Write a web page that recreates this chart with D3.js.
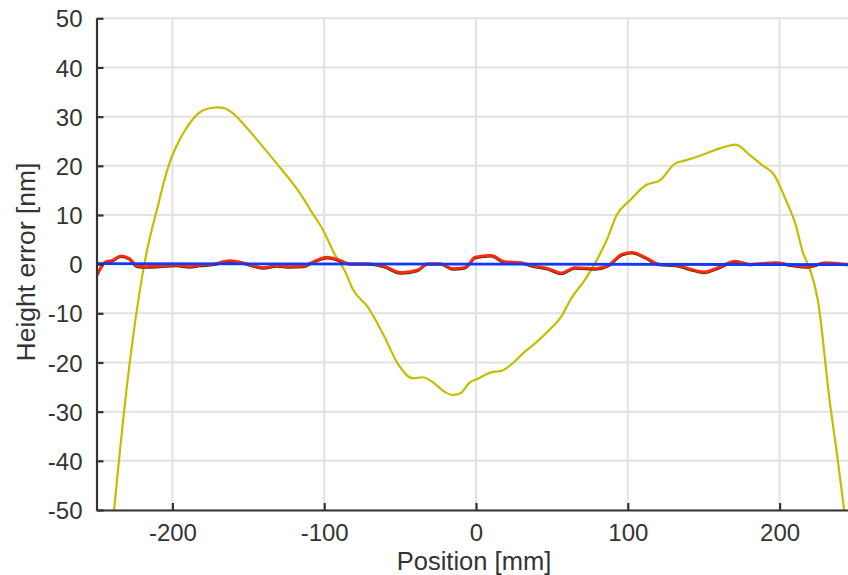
<!DOCTYPE html>
<html><head><meta charset="utf-8">
<script src="https://cdn.jsdelivr.net/npm/d3@7"></script>
<style>
html,body{margin:0;padding:0;background:#fff;overflow:hidden}
svg{display:block}
text{font-family:"Liberation Sans",Arial,Helvetica,sans-serif;fill:#333}
</style></head><body>
<svg id="c" width="848" height="575"></svg>
<script>
const xTicks = [-200, -100, 0, 100, 200];
const yTicks = [-50, -40, -30, -20, -10, 0, 10, 20, 30, 40, 50];
const xLabel = "Position [mm]";
const yLabel = "Height error [nm]";

// Yellow: raw profile
const rawX = [-238.4,-231,-218.5,-208.6,-205.8,-202,-195.4,-190.9,-181,-175.5,-170,-165.6,-161.1,-151.2,-140.2,-130.3,-115.9,-109,-100.7,-92.7,-86,-81.5,-70.9,-60.9,-51,-41.7,-35.1,-28.5,-20.5,-15.2,-9.9,-4.6,2,9.9,16.6,24.5,31.1,39.7,48.3,56.3,62.9,71.5,78.1,86.1,92.7,101.5,111.5,121.4,131.3,138,149,161.1,171,181,188.7,196.5,200.9,204.2,210.6,215.2,219.9,225.2,232.9,238.4,242.5];
const rawY = [-50,-27.6,0,13,16.5,20.5,25.2,27.6,31.1,31.7,31.9,31.7,30.9,27.8,23.8,20.1,14.4,11,6.9,1.8,-1.6,-4.9,-8.9,-14.4,-20.5,-23.2,-23,-24,-26,-26.6,-26.2,-24.2,-23.2,-22,-21.7,-20.1,-18.1,-15.9,-13.4,-10.6,-6.9,-3.3,0,4.9,10,13,16,17.1,20.5,21.1,22.2,23.6,24.3,22,20.1,18.1,15.4,13,8,2.5,-1,-7.3,-27.6,-40,-50];

// Red: residual
const resX = [-250.5,-244,-239.5,-234,-228.5,-223,-217.4,-208.6,-197.6,-188.7,-182,-173.3,-162.3,-151.2,-140.2,-131.3,-122.5,-113.7,-107.1,-98.2,-91.6,-82.8,-71.7,-60.7,-49.7,-38.6,-32,-23.2,-15.4,-7.7,-3.3,-1.1,9.9,18.7,29.8,38.6,47.5,56.3,65.1,78.3,87.2,96,102.6,111.5,120.3,131.3,142.4,150.1,157.8,171,179.9,197.5,208.6,217.4,230.7,239.5,247];
const resY = [-2.6,0.5,0.8,1.7,1.2,-0.4,-0.5,-0.4,-0.2,-0.5,-0.2,0,0.7,0.1,-0.7,-0.3,-0.5,-0.4,0.5,1.4,1.0,0.1,0.1,-0.4,-1.7,-1.2,0.1,0.1,-0.9,-0.7,0.5,1.4,1.8,0.5,0.3,-0.4,-0.9,-1.8,-0.7,-0.9,-0.2,2.0,2.4,1.4,0,-0.2,-1.1,-1.6,-0.9,0.6,0,0.3,-0.2,-0.5,0.3,0.1,0];

// Blue: fit
const fitX = [-250, 250];
const fitY = [0.1, -0.1];

const svg = d3.select("#c");
const x = d3.scaleLinear().domain([-250, 250]).range([96.5, 855.5]);
const y = d3.scaleLinear().domain([-50, 50]).range([510, 18.3]);
const fmt = d => String(d);

// grid
const g = svg.append("g");
g.selectAll(".gx").data(xTicks).enter().append("line")
  .attr("x1", d => x(d)).attr("x2", d => x(d)).attr("y1", y(50)).attr("y2", y(-50))
  .attr("stroke", "#e2e2e2").attr("stroke-width", 2);
g.selectAll(".gy").data(yTicks).enter().append("line")
  .attr("x1", x(-250)).attr("x2", x(250)).attr("y1", d => y(d)).attr("y2", d => y(d))
  .attr("stroke", "#e2e2e2").attr("stroke-width", 2);

svg.append("defs").append("clipPath").attr("id", "clip").append("rect")
  .attr("x", x(-250)).attr("y", y(50)).attr("width", x(250) - x(-250)).attr("height", y(-50) - y(50));

const line = d3.line().x(d => x(d[0])).y(d => y(d[1])).curve(d3.curveMonotoneX);
const plot = svg.append("g").attr("clip-path", "url(#clip)");

plot.append("path").datum(d3.zip(rawX, rawY)).attr("d", line)
  .attr("fill", "none").attr("stroke", "#c6bd00").attr("stroke-width", 2.2).attr("stroke-linejoin", "round");
plot.append("path").datum(d3.zip(resX, resY)).attr("d", line)
  .attr("transform", "translate(0,0.9)")
  .attr("fill", "none").attr("stroke", "#4a2a20").attr("stroke-width", 2.6).attr("stroke-linejoin", "round");
plot.append("path").datum(d3.zip(resX, resY)).attr("d", line)
  .attr("fill", "none").attr("stroke", "#ff2a00").attr("stroke-width", 2.8).attr("stroke-linejoin", "round");
plot.append("path").datum(d3.zip(fitX, fitY)).attr("d", line)
  .attr("fill", "none").attr("stroke", "#1038ff").attr("stroke-width", 2.8);

// axes
const xAxis = d3.axisBottom(x).tickValues(xTicks).tickSizeInner(-7).tickSizeOuter(0).tickPadding(14).tickFormat(fmt);
const yAxis = d3.axisLeft(y).tickValues(yTicks).tickSizeInner(-7).tickSizeOuter(0).tickPadding(14).tickFormat(fmt);

const gx = svg.append("g").attr("transform", `translate(0,${y(-50)})`).call(xAxis);
const gy = svg.append("g").attr("transform", `translate(${x(-250)},0)`).call(yAxis);
[gx, gy].forEach(a => {
  a.select(".domain").attr("stroke", "#333").attr("stroke-width", 2.2);
  a.selectAll(".tick line").attr("stroke", "#333").attr("stroke-width", 2.2);
  a.selectAll(".tick text").attr("font-size", 24).attr("fill", "#333")
    .style("font-family", '"Liberation Sans",Arial,sans-serif');
});
gx.selectAll(".tick text").attr("dy", "0.71em");
gy.selectAll(".tick text").attr("dy", "0.36em");

svg.append("text").attr("x", 474).attr("y", 570).attr("text-anchor", "middle")
  .attr("font-size", 25.5).text(xLabel);
svg.append("text").attr("transform", "translate(35,262) rotate(-90)").attr("text-anchor", "middle")
  .attr("font-size", 26.5).text(yLabel);
</script>
</body></html>
